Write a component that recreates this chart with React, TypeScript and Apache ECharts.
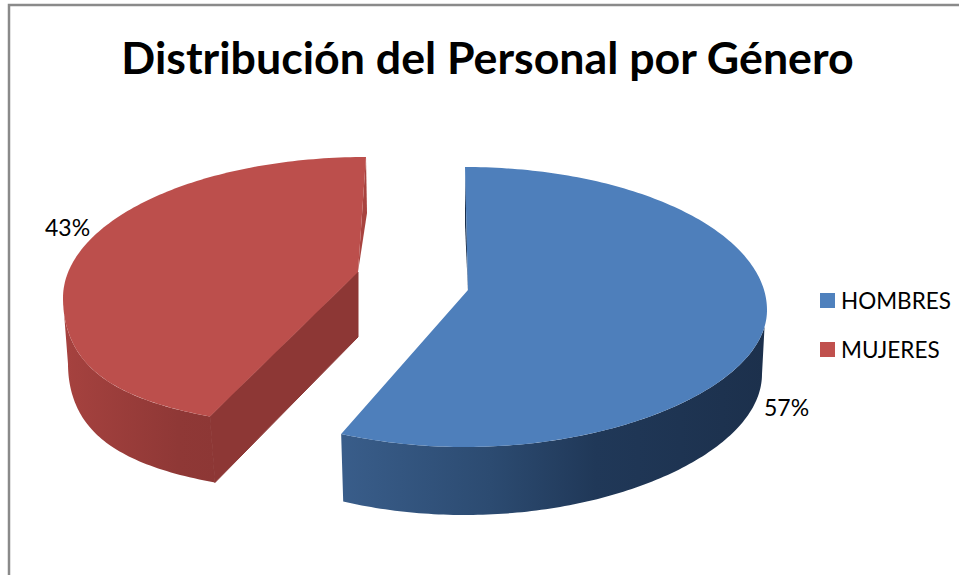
import React, { useEffect, useRef } from "react";
import * as echarts from "echarts";

const chartTitle = "Distribución del Personal por Género";
const categories = ["HOMBRES", "MUJERES"];
const percentages = [57, 43];
const faceColors = ["#4e7fbb", "#bc4f4c"];
const legendColors = ["#4f81bd", "#c0504d"];
const FONT = "Lato, Carlito, Calibri, sans-serif";

const total = percentages.reduce((a, b) => a + b, 0);
const sweepEnd = (percentages[0] / total) * 360;

type Geo = {
  cx: number; cy: number; rx: number; ryBack: number; ryFront: number; k: number;
  apex: number[]; bcx: number; bcy: number; brx: number; bryBack: number; bryFront: number;
  depth: number; from: number; to: number; wallTop: number; wallBottom: number;
  labelX: number; labelY: number;
};

const geoms: Geo[] = [
  {
    cx: 465, cy: 310, rx: 302, ryBack: 143, ryFront: 137, k: -0.045, apex: [468, 290],
    bcx: 465, bcy: 374, brx: 297, bryBack: 140, bryFront: 141, depth: 66,
    from: 0, to: sweepEnd, wallTop: 97, wallBottom: 90, labelX: 764, labelY: 407,
  },
  {
    cx: 366, cy: 298, rx: 303, ryBack: 141, ryFront: 131, k: 0.256, apex: [358, 272],
    bcx: 371, bcy: 364, brx: 303, bryBack: 141, bryFront: 131, depth: 65,
    from: sweepEnd, to: 360, wallTop: 263, wallBottom: 270, labelX: 45, labelY: 227,
  },
];

const rad = (d: number) => (d * Math.PI) / 180;

function topPoint(g: Geo, a: number) {
  const s = Math.sin(rad(a)), c = Math.cos(rad(a));
  const f = c < 0 ? 1 + g.k * c * c : 1;
  return [g.cx + g.rx * s * f, g.cy - (c > 0 ? g.ryBack : g.ryFront) * c];
}
function bottomPoint(g: Geo, a: number) {
  const s = Math.sin(rad(a)), c = Math.cos(rad(a));
  const f = c < 0 ? 1 + g.k * c * c : 1;
  return [g.bcx + g.brx * s * f, g.bcy - (c > 0 ? g.bryBack : g.bryFront) * c];
}
function arc(fn: (a: number) => number[], a0: number, a1: number) {
  const n = Math.max(2, Math.ceil(Math.abs(a1 - a0)));
  const out: number[][] = [];
  for (let i = 0; i <= n; i++) out.push(fn(a0 + ((a1 - a0) * i) / n));
  return out;
}

const wallFills = [
  new echarts.graphic.LinearGradient(342, 0, 765, 0, [
    { offset: 0, color: "#395d8a" },
    { offset: 0.35, color: "#2c4b71" },
    { offset: 0.6, color: "#203858" },
    { offset: 1, color: "#1c304c" },
  ], true),
  new echarts.graphic.LinearGradient(63, 0, 217, 0, [
    { offset: 0, color: "#a6423f" },
    { offset: 0.75, color: "#8f3836" },
    { offset: 1, color: "#8d3735" },
  ], true),
];
const cutFills = ["#1c3350", "#8d3735"];
const sliverFills = ["#1a2f4b", "#a8433f"];

function renderSlice(index: number) {
  return (_params: any, api: any) => {
    const g = geoms[index];
    const value = api.value(0);
    const startEnd = index === 0 ? topPoint(g, g.from) : topPoint(g, g.to);
    const children: any[] = [];
    if (index === 0) {
      const p = topPoint(g, 0);
      children.push({
        type: "polygon",
        shape: { points: [p, [p[0], p[1] + 58], [g.apex[0], g.apex[1] + 2], g.apex] },
        style: { fill: sliverFills[0] },
      });
      const wall = [...arc((a) => topPoint(g, a), g.wallTop, g.to), ...arc((a) => bottomPoint(g, a), g.to, g.wallBottom)];
      children.push({ type: "polygon", shape: { points: wall }, style: { fill: wallFills[0] } });
    } else {
      const e = topPoint(g, g.from), be = bottomPoint(g, g.from);
      children.push({
        type: "polygon",
        shape: { points: [startEnd, [startEnd[0] + 1, startEnd[1] + 56], g.apex] },
        style: { fill: sliverFills[1] },
      });
      const wall = [...arc((a) => topPoint(g, a), g.wallTop, g.from), ...arc((a) => bottomPoint(g, a), g.from, g.wallBottom)];
      children.push({ type: "polygon", shape: { points: wall }, style: { fill: wallFills[1] } });
      children.push({
        type: "polygon",
        shape: { points: [g.apex, e, be, [g.apex[0], g.apex[1] + g.depth]] },
        style: { fill: cutFills[1], stroke: cutFills[1], lineWidth: 1 },
      });
    }
    const face = [g.apex, ...arc((a) => topPoint(g, a), g.from, g.to)];
    children.push({ type: "polygon", shape: { points: face }, style: { fill: faceColors[index] } });
    children.push({
      type: "text",
      x: g.labelX,
      y: g.labelY,
      style: { text: `${value}%`, font: `23px ${FONT}`, fill: "#000", verticalAlign: "middle", align: "left" },
    });
    return { type: "group", children };
  };
}

export default function App() {
  const ref = useRef<HTMLDivElement>(null);
  useEffect(() => {
    document.body.style.margin = "0";
    const chart = echarts.init(ref.current!, undefined, { renderer: "svg" });
    chart.setOption({
      animation: false,
      backgroundColor: "#ffffff",
      title: {
        text: chartTitle,
        left: 482.5,
        top: 29,
        textAlign: "center",
        textStyle: { fontFamily: FONT, fontSize: 44.7, fontWeight: "bold", color: "#000" },
      },
      legend: {
        data: categories,
        orient: "vertical",
        left: 815,
        top: 284,
        icon: "rect",
        itemWidth: 15,
        itemHeight: 15,
        itemGap: 26,
        textStyle: { fontFamily: FONT, fontSize: 22.5, color: "#000", padding: [0, 0, 0, 1] },
      },
      graphic: [
        {
          type: "polyline",
          shape: { points: [[9, 575], [9, 5], [959, 5]] },
          style: { stroke: "#8a8a8a", lineWidth: 2.5, fill: "none" },
          silent: true,
        },
      ],
      series: categories.map((name, i) => ({
        type: "custom",
        name,
        coordinateSystem: "none",
        silent: true,
        itemStyle: { color: legendColors[i] },
        data: [[percentages[i]]],
        renderItem: renderSlice(i),
      })),
    });
    return () => chart.dispose();
  }, []);
  return <div ref={ref} style={{ width: 959, height: 575 }} />;
}
